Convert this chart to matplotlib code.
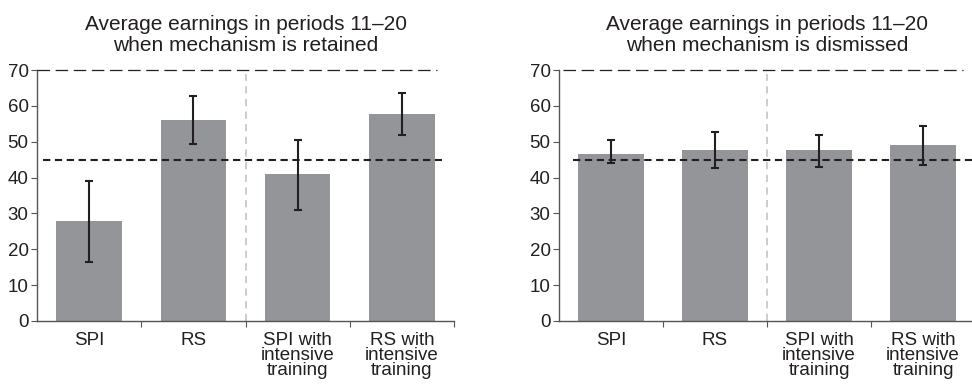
import matplotlib.pyplot as plt

# --- data ---
categories = ["SPI", "RS", "SPI with\nintensive\ntraining", "RS with\nintensive\ntraining"]
retained_mean = [28.0, 56.0, 41.0, 57.7]
retained_lo = [16.4, 49.5, 31.1, 51.9]
retained_hi = [39.1, 62.7, 50.4, 63.5]
dismissed_mean = [46.7, 47.7, 47.7, 49.1]
dismissed_lo = [44.0, 42.7, 43.1, 43.5]
dismissed_hi = [50.4, 52.8, 51.9, 54.4]
titles = ["Average earnings in periods 11\u201320\nwhen mechanism is retained",
          "Average earnings in periods 11\u201320\nwhen mechanism is dismissed"]
benchmark = 45
top_line = 70

plt.rcParams['font.family'] = ['Liberation Sans', 'DejaVu Sans']

BAR = "#939598"
INK = "#231f20"

fig = plt.figure(figsize=(9.72, 3.86), dpi=100)
ax1 = fig.add_axes([0.0381, 0.1684, 0.429, 0.650])
ax2 = fig.add_axes([0.5751, 0.1684, 0.428, 0.650])

panels = [
    (ax1, retained_mean, retained_lo, retained_hi, titles[0], (0.014, 0.97), (0.0, 0.96)),
    (ax2, dismissed_mean, dismissed_lo, dismissed_hi, titles[1], (0.034, 1.0), (0.01, 0.97)),
]

x = list(range(len(categories)))
for ax, mean, lo, hi, title, span45, span70 in panels:
    yerr = [[m - l for m, l in zip(mean, lo)], [h - m for m, h in zip(mean, hi)]]
    ax.bar(x, mean, width=0.63, color=BAR, zorder=2)
    ax.errorbar(x, mean, yerr=yerr, fmt='none', ecolor=INK, elinewidth=1.5,
                capsize=3, capthick=1.5, zorder=4)
    ax.axhline(benchmark, xmin=span45[0], xmax=span45[1], color=INK, lw=1.5,
               dashes=(3.5, 2.2), zorder=3)
    ax.axhline(top_line, xmin=span70[0], xmax=span70[1], color=INK, lw=0.9,
               dashes=(10, 4.5), zorder=3, clip_on=False)
    ax.axvline(1.5, ymin=0, ymax=0.985, color="#c8c8c8", lw=1.3, dashes=(4, 3), zorder=1)

    ax.set_xlim(-0.5, 3.5)
    ax.set_ylim(0, 70)
    ax.set_yticks(range(0, 71, 10))
    ax.set_xticks(x)
    ax.set_xticklabels(categories, fontsize=13.5, linespacing=0.85)
    ax.set_xticks([0.5, 1.5, 2.5, 3.5], minor=True)
    ax.tick_params(axis='x', which='major', length=0, pad=8, colors=INK)
    ax.tick_params(axis='x', which='minor', length=4, width=0.8, color="#555555")
    ax.tick_params(axis='y', length=4, width=0.8, color="#555555", labelsize=13.5,
                   labelcolor=INK, pad=2)
    for s in ['top', 'right']:
        ax.spines[s].set_visible(False)
    for s in ['left', 'bottom']:
        ax.spines[s].set_color("#555555")
        ax.spines[s].set_linewidth(1.0)
    ax.set_title(title, fontsize=15, color=INK, pad=14, linespacing=1.1)

fig.savefig("out.png", dpi=100)
